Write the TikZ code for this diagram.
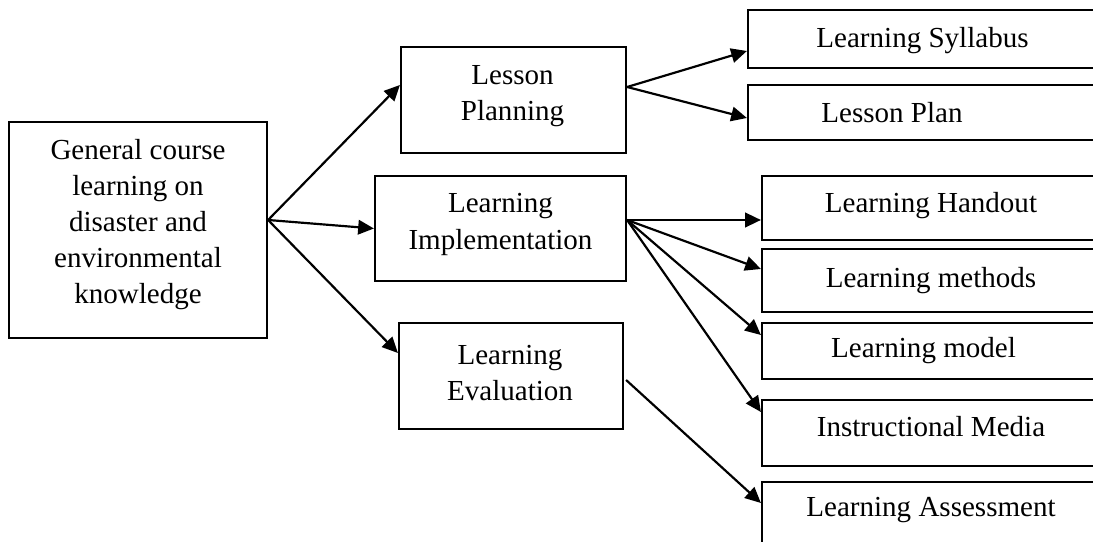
\documentclass[tikz,border=0pt]{standalone}
\usepackage{fontspec}
\setmainfont{Liberation Serif}
\usetikzlibrary{arrows.meta,calc}
% one drawing unit in points
\def\pxu{0.4132pt}

\begin{document}
\begin{tikzpicture}[x=0.4132pt, y=-0.4132pt,
  box/.style={draw, line width=0.9pt, inner sep=0pt},
  txt/.style={font=\fontsize{12pt}{14.9pt}\selectfont, align=center, inner sep=0pt},
  arr/.style={line width=0.9pt, -{Triangle[length=6.5pt,width=6pt]}}
]
\useasboundingbox (0,0) rectangle (1093,542);
\clip (0,0) rectangle (1093,542);

% main topic
\node[box, minimum width=258*\pxu, minimum height=216*\pxu,
  label={[txt, yshift=5.5*\pxu]center:General course\\learning on\\disaster and\\environmental\\knowledge}]
  (gen) at (138,230) {};

% three stages
\node[box, minimum width=225*\pxu, minimum height=106*\pxu,
  label={[txt, yshift=3.5*\pxu, xshift=-1*\pxu]center:Lesson\\Planning}]
  (plan) at (513.5,100) {};
\node[box, minimum width=251*\pxu, minimum height=105*\pxu,
  label={[txt, yshift=4*\pxu]center:Learning\\Implementation}]
  (impl) at (500.5,228.5) {};
\node[box, minimum width=224*\pxu, minimum height=106*\pxu,
  label={[txt, yshift=3*\pxu, xshift=-1*\pxu]center:Learning\\Evaluation}]
  (eval) at (511,376) {};

% outputs
\node[box, minimum width=352*\pxu, minimum height=58*\pxu,
  label={[txt, yshift=-2*\pxu, xshift=-1.5*\pxu]center:Learning Syllabus}]
  (syl) at (924,39) {};
\node[box, minimum width=352*\pxu, minimum height=55*\pxu,
  label={[txt, xshift=-32*\pxu]center:Lesson Plan}]
  (lp) at (924,112.5) {};
\node[box, minimum width=338*\pxu, minimum height=64*\pxu,
  label={[txt, yshift=2*\pxu]center:Learning Handout}]
  (ho) at (931,208) {};
\node[box, minimum width=338*\pxu, minimum height=63*\pxu,
  label={[txt]center:Learning methods}]
  (me) at (931,280.5) {};
\node[box, minimum width=338*\pxu, minimum height=56*\pxu,
  label={[txt, xshift=-7.5*\pxu]center:Learning model}]
  (mo) at (931,351) {};
\node[box, minimum width=338*\pxu, minimum height=66*\pxu,
  label={[txt, yshift=6*\pxu]center:Instructional Media}]
  (md) at (931,433) {};
\node[box, minimum width=338*\pxu, minimum height=66*\pxu,
  label={[txt, yshift=5*\pxu]center:Learning Assessment}]
  (as) at (931,515) {};

% connectors
\draw[arr] ($(gen.east)+(0,-10)$) -- ($(plan.west)+(0,-15)$);
\draw[arr] ($(gen.east)+(0,-10)$) -- (impl.west);
\draw[arr] ($(gen.east)+(0,-10)$) -- ($(eval.west)+(0,-23)$);

\draw[arr] ($(plan.east)+(0,-13)$) -- ($(syl.west)+(0,12)$);
\draw[arr] ($(plan.east)+(0,-13)$) -- ($(lp.west)+(0,5.5)$);

\draw[arr] ($(impl.east)+(0,-8.5)$) -- ($(ho.west)+(0,12)$);
\draw[arr] ($(impl.east)+(0,-8.5)$) -- ($(me.west)+(0,-11.5)$);
\draw[arr] ($(impl.east)+(0,-8.5)$) -- ($(mo.west)+(0,-16)$);
\draw[arr] ($(impl.east)+(0,-8.5)$) -- ($(md.west)+(0,-21)$);

\draw[arr] ($(eval.east)+(2,4)$) -- ($(as.west)+(0,-12)$);
\end{tikzpicture}
\end{document}
